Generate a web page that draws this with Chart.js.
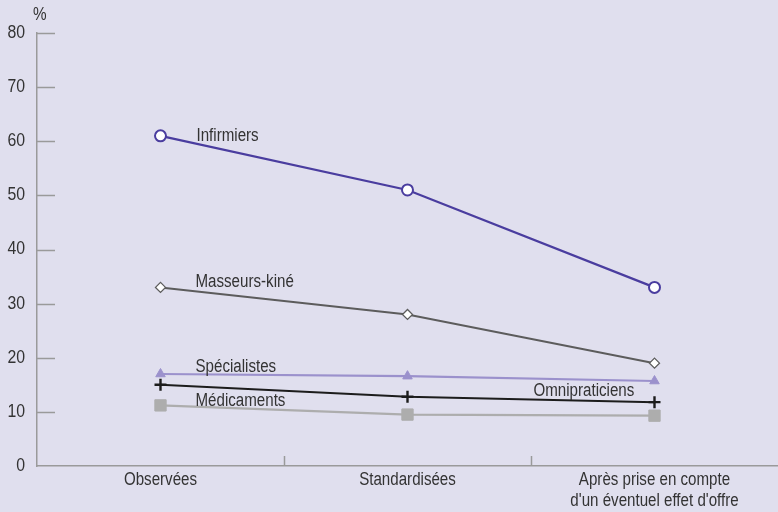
<!DOCTYPE html>
<html>
<head>
<meta charset="utf-8">
<script src="https://cdn.jsdelivr.net/npm/chart.js@4"></script>
<style>
  html, body { margin: 0; padding: 0; background: #e0dfee; }
  #wrap { width: 778px; height: 512px; }
</style>
</head>
<body>
<div id="wrap"><canvas id="chart"></canvas></div>
<script>
// Categories and series
const categories = ["Observées", "Standardisées", ["Après prise en compte", "d'un éventuel effet d'offre"]];
const infirmiers = [61, 51, 33];
const masseurs = [33, 28, 19];
const specialistes = [17, 16.6, 15.7];
const omnipraticiens = [15, 12.8, 11.8];
const medicaments = [11.2, 9.5, 9.3];
const yTicks = [0, 10, 20, 30, 40, 50, 60, 70, 80];

const FONT = "'Liberation Sans', Arial, sans-serif";
const AXIS = "#9a9a9a";
const TEXT = "#333333";
const SQUEEZE = 0.84; // the original type is a narrow face

// Series label text drawn next to a chosen point
const seriesLabels = [
  { ds: 0, idx: 0, text: "Infirmiers", dx: 36, dy: 0 },
  { ds: 1, idx: 0, text: "Masseurs-kiné", dx: 35, dy: -5 },
  { ds: 2, idx: 0, text: "Spécialistes", dx: 35, dy: -7 },
  { ds: 3, idx: 2, text: "Omnipraticiens", dx: -121, dy: -11 },
  { ds: 4, idx: 0, text: "Médicaments", dx: 35, dy: -4 }
];

// draw condensed text
function narrowText(ctx, text, x, y, sx) {
  ctx.save();
  ctx.translate(x, y);
  ctx.scale(sx, 1);
  ctx.fillText(text, 0, 0);
  ctx.restore();
}

// Inward tick marks, category separators, axis labels, % unit and series labels
const decorations = {
  id: "decorations",
  afterDraw(chart) {
    const { ctx, chartArea, scales } = chart;
    ctx.save();
    ctx.strokeStyle = AXIS;
    ctx.lineWidth = 1.5;
    yTicks.forEach(v => {
      if (v === 0) return;
      const y = Math.round(scales.y.getPixelForValue(v)) + 0.5;
      ctx.beginPath();
      ctx.moveTo(chartArea.left, y);
      ctx.lineTo(chartArea.left + 18, y);
      ctx.stroke();
    });
    const step = chartArea.width / categories.length;
    for (let i = 1; i < categories.length; i++) {
      const x = Math.round(chartArea.left + step * i) + 0.5;
      ctx.beginPath();
      ctx.moveTo(x, chartArea.bottom);
      ctx.lineTo(x, chartArea.bottom - 10);
      ctx.stroke();
    }

    ctx.fillStyle = TEXT;
    ctx.textBaseline = "middle";

    // y tick labels
    ctx.font = "18px " + FONT;
    ctx.textAlign = "right";
    yTicks.forEach(v => {
      narrowText(ctx, String(v), chartArea.left - 12, scales.y.getPixelForValue(v), 0.88);
    });

    // category labels
    ctx.textAlign = "center";
    categories.forEach((c, i) => {
      const x = scales.x.getPixelForValue(i);
      const lines = Array.isArray(c) ? c : [c];
      lines.forEach((line, k) => {
        narrowText(ctx, line, x, chartArea.bottom + 14 + k * 21, SQUEEZE);
      });
    });

    ctx.textAlign = "left";
    ctx.font = "18px " + FONT;
    narrowText(ctx, "%", chartArea.left - 4, chartArea.top - 18, 0.85);

    seriesLabels.forEach(l => {
      const pt = chart.getDatasetMeta(l.ds).data[l.idx];
      narrowText(ctx, l.text, pt.x + l.dx, pt.y + l.dy, SQUEEZE);
    });
    ctx.restore();
  }
};

new Chart(document.getElementById("chart"), {
  type: "line",
  data: {
    labels: categories,
    datasets: [
      { data: infirmiers, borderColor: "#4a3d9f", borderWidth: 2.2, pointStyle: "circle", pointRadius: 5.5, pointBorderWidth: 2, pointBackgroundColor: "#ffffff", pointBorderColor: "#4a3d9f" },
      { data: masseurs, borderColor: "#5c5c5c", borderWidth: 2, pointStyle: "rectRot", pointRadius: 5, pointBorderWidth: 1.3, pointBackgroundColor: "#ffffff", pointBorderColor: "#5c5c5c" },
      { data: specialistes, borderColor: "#9b91cc", borderWidth: 2.2, pointStyle: "triangle", pointRadius: 5.5, pointBorderWidth: 1, pointBackgroundColor: "#9b91cc", pointBorderColor: "#9b91cc" },
      { data: omnipraticiens, borderColor: "#1c1c1c", borderWidth: 2, pointStyle: "cross", pointRadius: 6, pointBorderWidth: 2.4, pointBackgroundColor: "#1c1c1c", pointBorderColor: "#1c1c1c" },
      { data: medicaments, borderColor: "#adadad", borderWidth: 2.2, pointStyle: "rect", pointRadius: 8, pointBorderWidth: 1, pointBackgroundColor: "#adadad", pointBorderColor: "#adadad" }
    ]
  },
  options: {
    responsive: true,
    maintainAspectRatio: false,
    animation: false,
    layout: { autoPadding: false, padding: { top: 33, right: -2, left: 0, bottom: 0 } },
    plugins: {
      legend: { display: false },
      tooltip: { enabled: false }
    },
    scales: {
      x: {
        offset: true,
        grid: { display: false, drawTicks: false },
        border: { display: true, color: AXIS, width: 1.5 },
        ticks: { display: false },
        afterFit(scale) { scale.height = 46; }
      },
      y: {
        min: 0,
        max: 80,
        grid: { display: false, drawTicks: false },
        border: { display: true, color: AXIS, width: 1.5 },
        ticks: { display: false, stepSize: 10 },
        afterFit(scale) { scale.width = 37; }
      }
    }
  },
  plugins: [decorations]
});
</script>
</body>
</html>
